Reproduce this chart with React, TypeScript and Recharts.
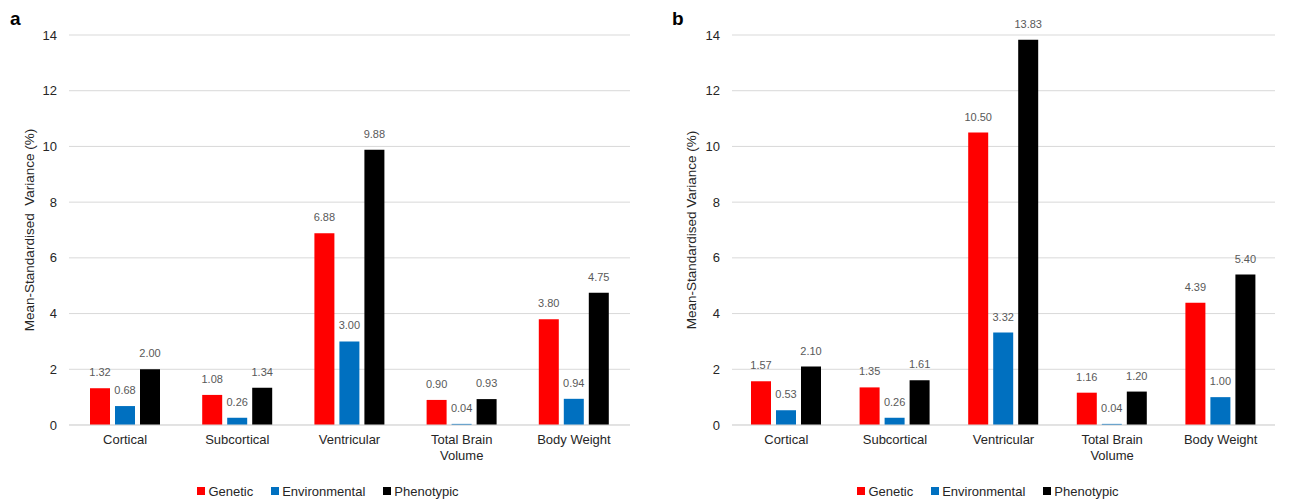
import React from 'react';
import {
  BarChart,
  Bar,
  XAxis,
  YAxis,
  CartesianGrid,
  Legend,
  LabelList,
} from 'recharts';

const FONT = '"Liberation Sans", Arial, sans-serif';

// Trait groups on the x axis
const categories = ['Cortical', 'Subcortical', 'Ventricular', 'Total Brain Volume', 'Body Weight'];

// Panel a
const geneticA = [1.32, 1.08, 6.88, 0.9, 3.8];
const environmentalA = [0.68, 0.26, 3.0, 0.04, 0.94];
const phenotypicA = [2.0, 1.34, 9.88, 0.93, 4.75];

// Panel b
const geneticB = [1.57, 1.35, 10.5, 1.16, 4.39];
const environmentalB = [0.53, 0.26, 3.32, 0.04, 1.0];
const phenotypicB = [2.1, 1.61, 13.83, 1.2, 5.4];

const yTicks = [0, 2, 4, 6, 8, 10, 12, 14];

const SERIES = [
  { key: 'genetic', name: 'Genetic', color: '#FF0000' },
  { key: 'environmental', name: 'Environmental', color: '#0070C0' },
  { key: 'phenotypic', name: 'Phenotypic', color: '#000000' },
];

function buildRows(g: number[], e: number[], p: number[]) {
  return categories.map((name, i) => ({
    name,
    genetic: g[i],
    environmental: e[i],
    phenotypic: p[i],
  }));
}

// split long category names over two lines
function wrapLabel(label: string, maxChars = 11): string[] {
  const lines: string[] = [];
  let cur = '';
  for (const w of label.split(' ')) {
    const next = cur ? cur + ' ' + w : w;
    if (next.length > maxChars && cur) {
      lines.push(cur);
      cur = w;
    } else {
      cur = next;
    }
  }
  if (cur) lines.push(cur);
  return lines;
}

function CategoryTick(props: any) {
  const { x, y, payload } = props;
  const lines = wrapLabel(String(payload.value));
  return (
    <text x={x} y={y} textAnchor="middle" fill="#262626" fontSize={13} fontFamily={FONT}>
      {lines.map((l, i) => (
        <tspan key={i} x={x} dy={i === 0 ? 11 : 16}>
          {l}
        </tspan>
      ))}
    </text>
  );
}

// value printed above each bar
function ValueLabel(props: any) {
  const { x, y, width, value } = props;
  return (
    <text
      x={Number(x) + Number(width) / 2}
      y={Number(y) - 12}
      textAnchor="middle"
      fill="#595959"
      fontSize={11}
      fontFamily={FONT}
    >
      {Number(value).toFixed(2)}
    </text>
  );
}

function AxisTitle(props: any) {
  const { viewBox, text } = props;
  const cx = viewBox.x + 29;
  const cy = viewBox.y + viewBox.height / 2;
  return (
    <text
      x={cx}
      y={cy}
      transform={`rotate(-90, ${cx}, ${cy})`}
      textAnchor="middle"
      dominantBaseline="central"
      fill="#262626"
      fontSize={13.5}
      fontFamily={FONT}
      style={{ whiteSpace: 'pre' }}
    >
      {text}
    </text>
  );
}

function LegendContent() {
  return (
    <div
      style={{
        display: 'flex',
        justifyContent: 'center',
        alignItems: 'center',
        height: 18,
        fontFamily: FONT,
        fontSize: 13,
        color: '#262626',
      }}
    >
      {SERIES.map((s, i) => (
        <div key={s.key} style={{ display: 'flex', alignItems: 'center', marginLeft: i === 0 ? 0 : 18 }}>
          <span style={{ width: 8, height: 8, background: s.color, display: 'inline-block', marginRight: 3 }} />
          <span>{s.name}</span>
        </div>
      ))}
    </div>
  );
}

interface PanelProps {
  rows: ReturnType<typeof buildRows>;
  width: number;
  rightMargin: number;
  yAxisWidth: number;
  yLabel: string;
  legendWidth: number;
}

function Panel({ rows, width, rightMargin, yAxisWidth, yLabel, legendWidth }: PanelProps) {
  return (
    <BarChart
      width={width}
      height={502}
      data={rows}
      margin={{ top: 35, right: rightMargin, bottom: 2, left: 0 }}
      barSize={20}
      barGap={5}
    >
      <CartesianGrid vertical={false} stroke="#d9d9d9" />
      <XAxis
        dataKey="name"
        height={57}
        interval={0}
        tickLine={false}
        axisLine={{ stroke: '#d9d9d9' }}
        tick={<CategoryTick />}
      />
      <YAxis
        width={yAxisWidth}
        domain={[0, 14]}
        ticks={yTicks}
        tickLine={false}
        axisLine={false}
        tickMargin={6}
        tick={{ fontSize: 13, fill: '#262626', fontFamily: FONT }}
        label={<AxisTitle text={yLabel} />}
      />
      <Legend
        verticalAlign="bottom"
        content={<LegendContent />}
        wrapperStyle={{ left: 0, width: legendWidth }}
      />
      {SERIES.map((s) => (
        <Bar key={s.key} dataKey={s.key} name={s.name} fill={s.color} isAnimationActive={false}>
          <LabelList dataKey={s.key} content={<ValueLabel />} />
        </Bar>
      ))}
    </BarChart>
  );
}

const letterStyle: React.CSSProperties = {
  position: 'absolute',
  top: 8,
  fontFamily: FONT,
  fontWeight: 'bold',
  fontSize: 19,
  color: '#000',
};

export default function App() {
  const rowsA = buildRows(geneticA, environmentalA, phenotypicA);
  const rowsB = buildRows(geneticB, environmentalB, phenotypicB);
  return (
    <div
      style={{
        position: 'absolute',
        left: 0,
        top: 0,
        width: 1292,
        height: 502,
        background: '#fff',
        fontFamily: FONT,
      }}
    >
      <div style={{ position: 'absolute', left: 0, top: 0 }}>
        <Panel
          rows={rowsA}
          width={650}
          rightMargin={20}
          yAxisWidth={69}
          yLabel="Mean-Standardised  Variance (%)"
          legendWidth={656}
        />
      </div>
      <div style={{ position: 'absolute', left: 662, top: 0 }}>
        <Panel
          rows={rowsB}
          width={630}
          rightMargin={17}
          yAxisWidth={70}
          yLabel="Mean-Standardised Variance (%)"
          legendWidth={652}
        />
      </div>
      <div style={{ ...letterStyle, left: 10 }}>a</div>
      <div style={{ ...letterStyle, left: 672 }}>b</div>
    </div>
  );
}
